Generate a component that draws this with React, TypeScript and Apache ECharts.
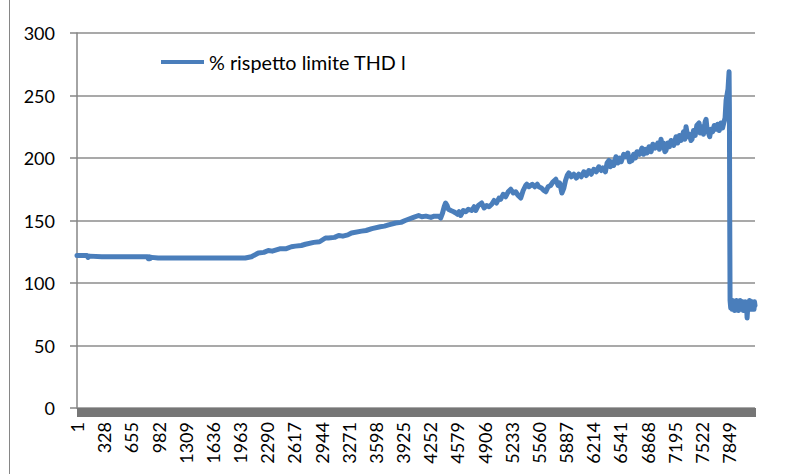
import React, { useEffect, useRef } from "react";
import * as echarts from "echarts";

const TOTAL_SAMPLES = 8160;
const categories: string[] = Array.from({ length: TOTAL_SAMPLES }, (_, i) => String(i + 1));

const sampleIdx = [
  1, 60, 120, 134, 150, 300, 600, 850, 857, 870, 881, 900, 977, 1500, 2026, 2100, 2183, 2250, 2303, 2350,
  2450, 2520, 2581, 2629, 2700, 2750, 2850, 2920, 2991, 3027, 3100, 3150, 3200, 3260, 3304, 3425, 3480, 3550,
  3650, 3700, 3750, 3835, 3900, 3950, 4050, 4112, 4150,
  4200, 4260, 4300, 4353, 4377, 4400, 4420, 4437, 4455, 4470, 4500, 4534, 4560, 4580, 4600, 4618, 4650, 4680, 4710, 4751,
  4780, 4800, 4830, 4871, 4900, 4930, 4960, 4992, 5020, 5050, 5080, 5100, 5130, 5160, 5190, 5221, 5250, 5280,
  5310, 5341, 5370, 5400, 5414, 5440, 5480, 5510, 5540, 5558, 5590, 5620, 5643, 5670, 5700, 5730, 5763, 5790,
  5810, 5836, 5860, 5880, 5900, 5920, 5950, 5980, 6010, 6040, 6070, 6100, 6130, 6161, 6190, 6220, 6250, 6281,
  6310, 6330, 6360, 6380, 6402, 6420, 6440, 6460, 6486, 6510, 6530, 6550, 6580, 6607, 6630, 6650, 6679, 6700,
  6720, 6740, 6770, 6800, 6820, 6840, 6860, 6884, 6910, 6930, 6960, 6990, 7010, 7029, 7045, 7060, 7075, 7089,
  7110, 7130, 7150, 7180, 7210, 7230, 7250, 7270, 7300, 7315, 7330, 7350, 7370, 7390, 7402, 7420, 7440, 7460,
  7487, 7500, 7520, 7540, 7560, 7571, 7585, 7600, 7615, 7630, 7650, 7670, 7692, 7710, 7730, 7750, 7770, 7788,
  7800, 7812, 7835, 7848, 7852, 7856, 7860, 7868, 7876, 7884, 7892, 7900, 7908, 7915, 7922, 7930, 7938, 7945,
  7952, 7960, 7968, 7975, 7982, 7990, 7998, 8005, 8012, 8020, 8028, 8035, 8042, 8050, 8057, 8065, 8072, 8080,
  8088, 8095, 8102, 8110, 8118, 8125, 8132, 8140, 8148, 8154, 8160,
];
const sampleVal = [
  122, 122, 122, 120.5, 121.5, 121, 121, 121, 119.5, 121, 119.5, 120.5, 120, 120, 120, 121, 124, 124.5, 126, 125.5,
  127.5, 127.5, 129, 129.5, 130, 131, 132.5, 133, 136, 136, 136.5, 138, 137.5, 138.5, 140, 141.5, 142, 143.5,
  145, 145.5, 146.5, 148, 148.5, 150, 152.5, 154, 153,
  153.5, 152.5, 153.5, 153.5, 152, 156, 161, 164, 162, 159, 158, 157, 156, 155, 157, 154, 158, 157, 159, 158,
  161, 158, 162, 164, 160, 162, 161, 163, 166, 164, 168, 167, 171, 169, 173, 175, 172, 173,
  170, 168, 174, 178, 179, 177, 179, 177, 179, 177, 176, 174, 173, 177, 178, 181, 183, 178,
  180, 172, 176, 182, 186, 188, 185, 187, 184, 187, 185, 189, 186, 190, 187, 191, 189, 193,
  190, 192, 189, 196, 198, 193, 197, 194, 201, 196, 200, 197, 203, 201, 204, 197, 198, 203,
  200, 205, 203, 208, 203, 207, 204, 209, 205, 211, 208, 212, 207, 215, 209, 212, 205, 206,
  212, 209, 214, 210, 217, 212, 218, 214, 221, 215, 225, 217, 219, 214, 215, 222, 218, 226,
  228, 220, 225, 219, 229, 231, 222, 220, 217, 223, 221, 226, 223, 227, 222, 228, 224, 229,
  232, 246, 255, 269, 240, 150, 86, 80, 85, 79, 86, 80, 85, 78, 84, 80, 86, 79,
  84, 78, 85, 80, 86, 79, 84, 80, 85, 78, 84, 79, 85, 80, 84, 72, 80, 85,
  79, 86, 80, 84, 79, 85, 80, 84, 79, 85, 82,
];

const yTicks = { min: 0, max: 300, interval: 50 };
const seriesName = "% rispetto limite THD l";

const FONT = "Lato, 'Open Sans', sans-serif";

export default function App() {
  const ref = useRef<HTMLDivElement>(null);
  useEffect(() => {
    if (!ref.current) return;
    const chart = echarts.init(ref.current, null, { renderer: "svg" });
    const seriesData: (number | null)[] = new Array(TOTAL_SAMPLES).fill(null);
    sampleIdx.forEach((s, k) => {
      seriesData[s - 1] = sampleVal[k];
    });
    chart.setOption({
      animation: false,
      backgroundColor: "#ffffff",
      grid: { left: 77, right: 31, top: 33, bottom: 66, containLabel: false },
      legend: {
        data: [seriesName],
        left: 156,
        top: 47,
        icon: "rect",
        itemWidth: 43,
        itemHeight: 4,
        itemGap: 8,
        textStyle: { fontFamily: FONT, fontSize: 19.8, color: "#000" },
      },
      graphic: [
        {
          type: "line",
          shape: { x1: 9.5, y1: 0, x2: 9.5, y2: 474 },
          style: { stroke: "#868686", lineWidth: 1 },
          silent: true,
        },
      ],
      xAxis: {
        type: "category",
        data: categories,
        boundaryGap: false,
        axisLine: { show: true, lineStyle: { color: "#767676", width: 1 } },
        axisTick: { show: true, interval: 1, length: 9, lineStyle: { color: "#767676", width: 1 } },
        axisLabel: {
          interval: 326,
          rotate: 90,
          margin: 14,
          fontFamily: FONT,
          fontSize: 18,
          color: "#000",
        },
        splitLine: { show: false },
      },
      yAxis: {
        type: "value",
        min: yTicks.min,
        max: yTicks.max,
        interval: yTicks.interval,
        axisLine: { show: true, lineStyle: { color: "#868686", width: 1.5 } },
        axisTick: { show: true, length: 7, lineStyle: { color: "#868686", width: 1.5 } },
        axisLabel: { margin: 22, fontFamily: FONT, fontSize: 18, color: "#000" },
        splitLine: { show: true, lineStyle: { color: "#8c8c8c", width: 1.5 } },
      },
      series: [
        {
          name: seriesName,
          type: "line",
          data: seriesData,
          connectNulls: true,
          showSymbol: false,
          symbol: "none",
          lineStyle: { color: "#4A7EBB", width: 5, join: "round", cap: "round" },
          itemStyle: { color: "#4A7EBB" },
        },
      ],
    });
    return () => chart.dispose();
  }, []);
  return (
    <div
      ref={ref}
      style={{ position: "fixed", left: 0, top: 0, width: 786, height: 474 }}
    />
  );
}
